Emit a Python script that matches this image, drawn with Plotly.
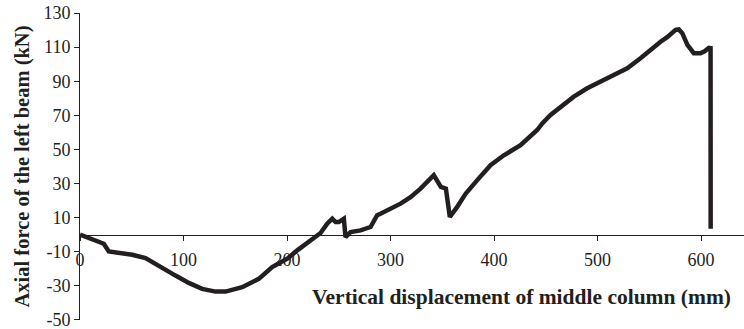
import plotly.graph_objects as go

displacement = [0, 11.8, 23, 27.8, 37.5, 50.4, 63.3, 79.4, 92.3, 105.1, 118, 130.9, 140.6,
                156.7, 172.7, 185.7, 200.2, 209.9, 225.9, 232.4, 238.8, 243.7, 246.9, 250,
                254.9, 256.5, 261.4, 271, 280.7, 287.1, 290.3, 300, 309.7, 319.3, 329,
                341.8, 348.6, 353.5, 354, 357.3, 364.4, 372.5, 383.8, 396.6, 409.5, 425.6,
                441.7, 446.6, 454.6, 464.3, 470.7, 477.1, 490, 502.9, 515.8, 528.7, 541.5,
                554.4, 560.9, 567.3, 575.4, 578.5, 581.9, 586.8, 593, 599.5, 603.5, 607.5,
                609.2, 609.3]
axial_force = [0, -2.4, -5.3, -9.8, -10.6, -11.8, -13.7, -19, -24, -28.3, -31.8, -33.4, -33.4,
               -30.8, -25.9, -19, -14.1, -9.2, -2.4, 1, 6.5, 9.4, 7.4, 7.4,
               9.4, -1.4, 1.5, 2.5, 4.5, 11.4, 12.3, 15.3, 18.2, 22, 27,
               34.9, 28, 27, 24, 10.4, 16.3, 24, 32, 40.8, 46.6, 52.5,
               61.4, 65.3, 70.2, 75.1, 78, 81, 85.9, 89.8, 93.7, 97.6, 103.5,
               110.4, 113.2, 115.9, 120.2, 120.4, 118.2, 111.4, 106.5, 106.5, 107.6, 109.6,
               109.4, 3.5]

x_ticks = [0, 100, 200, 300, 400, 500, 600]
y_ticks = [-50, -30, -10, 10, 30, 50, 70, 90, 110, 130]

FONT = "Liberation Serif"
INK = "#231f20"

fig = go.Figure()
fig.add_trace(go.Scatter(x=displacement, y=axial_force, mode="lines",
                         line=dict(color=INK, width=4.5, shape="linear"),
                         showlegend=False, hoverinfo="skip"))

fig.update_layout(
    width=744, height=329,
    margin=dict(l=80, r=0, t=13, b=9),
    paper_bgcolor="white", plot_bgcolor="white",
    font=dict(family=FONT, size=18, color=INK),
    xaxis=dict(range=[0, 641.5], tickvals=x_ticks, ticktext=[str(v) for v in x_ticks],
               showgrid=False, zeroline=False, showline=True, linecolor=INK, linewidth=1,
               ticks="outside", ticklen=5, tickcolor=INK, tickwidth=1,
               anchor="free", position=50 / 180, ticklabelstandoff=4),
    yaxis=dict(range=[-50.05, 130.05], tickvals=y_ticks, ticktext=[str(v) for v in y_ticks],
               showgrid=False, zeroline=False, showline=True, linecolor=INK, linewidth=1,
               ticks="outside", ticklen=5, tickcolor=INK, tickwidth=1,
               ticklabeloverflow="allow",
               title=dict(text="<b>Axial force of the left beam (kN)</b>",
                          font=dict(family=FONT, size=20.5, color=INK), standoff=8)),
    annotations=[dict(text="<b>Vertical displacement of middle column (mm)</b>",
                      xref="paper", yref="paper", x=0.665, y=0.075,
                      xanchor="center", yanchor="middle", showarrow=False,
                      font=dict(family=FONT, size=21.5, color=INK))],
)

fig.write_html("out.html", config={"displayModeBar": False},
               post_script="document.body.style.margin='0';document.body.style.overflow='hidden';")
